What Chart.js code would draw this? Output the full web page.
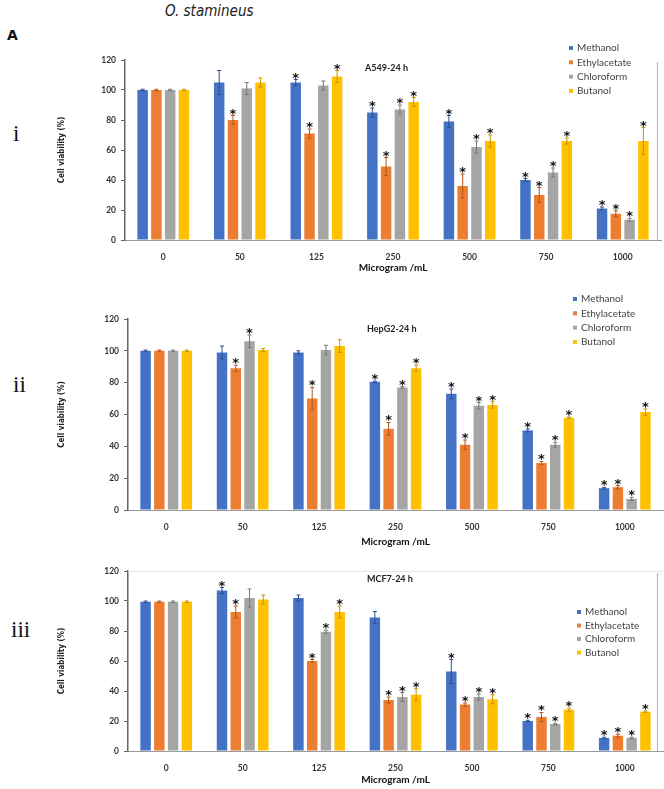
<!DOCTYPE html>
<html>
<head>
<meta charset="utf-8">
<script src="https://cdn.jsdelivr.net/npm/chart.js@4.4.1/dist/chart.umd.min.js"></script>
<style>
  body { margin: 0; background: #fff; width: 664px; height: 789px; position: relative; overflow: hidden; }
  canvas { position: absolute; left: 0; }
  .lbl { position: absolute; font-family: "Liberation Serif", serif; font-size: 23px; color: #111; }
  #species { position: absolute; left: 165px; top: 2px; font-family: "Liberation Sans Narrow", "DejaVu Sans Condensed", sans-serif; font-style: italic; font-size: 15px; color: #222; }
  #letterA { position: absolute; left: 7px; top: 27px; font-family: "DejaVu Sans", sans-serif; font-weight: bold; font-size: 14px; color: #111; }
</style>
</head>
<body>
<div id="species">O. stamineus</div>
<div id="letterA">A</div>
<div class="lbl" style="left:13px;top:121px">i</div>
<div class="lbl" style="left:13px;top:372px">ii</div>
<div class="lbl" style="left:11px;top:617px">iii</div>
<canvas id="chartA549" width="664" height="238" style="top:40px"></canvas>
<canvas id="chartHepG2" width="664" height="262" style="top:290px"></canvas>
<canvas id="chartMCF7" width="664" height="240" style="top:550px"></canvas>
<script>
// ---- данные ----
const doses = ['0', '50', '125', '250', '500', '750', '1000'];
const solvents = ['Methanol', 'Ethylacetate', 'Chloroform', 'Butanol'];
const solventColors = ['#4472C4', '#ED7D31', '#A5A5A5', '#FFC000'];
const errColors = ['#2c4f8f', '#b5561b', '#777777', '#c79500'];
const yTicks = [0, 20, 40, 60, 80, 100, 120];

// A549-24 h
const a549Methanol = [100, 105, 105, 85, 79, 40, 21];
const a549Ethyl    = [100, 80, 71, 49, 36, 30, 17.5];
const a549Chloro   = [100, 101, 103, 87, 62, 45, 13.5];
const a549Butanol  = [100, 105, 109, 92, 66, 66, 66];
const a549ErrMethanol = [0.5, 8, 2, 3, 4, 1, 1];
const a549ErrEthyl    = [0.5, 3, 3, 6, 8, 5, 2];
const a549ErrChloro   = [0.5, 4, 3, 3, 4, 3, 1];
const a549ErrButanol  = [0.5, 3, 4, 3, 4, 2, 9];
const a549StarMethanol = [0, 0, 1, 1, 1, 1, 1];
const a549StarEthyl    = [0, 1, 1, 1, 1, 1, 1];
const a549StarChloro   = [0, 0, 0, 1, 1, 1, 1];
const a549StarButanol  = [0, 0, 1, 1, 1, 1, 1];

// HepG2-24 h
const hepMethanol = [100, 99, 99, 80.5, 73, 50, 13.7];
const hepEthyl    = [100, 89, 70, 51, 41, 29.5, 14.3];
const hepChloro   = [100, 106, 100.5, 77, 65.5, 41, 7];
const hepButanol  = [100, 100.5, 103, 89, 66, 58, 61.5];
const hepErrMethanol = [0.5, 4, 1, 0.5, 3, 1, 0.5];
const hepErrEthyl    = [0.5, 2, 7, 4, 3, 1, 1];
const hepErrChloro   = [0.5, 4, 3, 0.5, 2, 1.5, 1];
const hepErrButanol  = [0.5, 1, 4, 2, 2, 0.5, 2];
const hepStarMethanol = [0, 0, 0, 1, 1, 1, 1];
const hepStarEthyl    = [0, 1, 1, 1, 1, 1, 1];
const hepStarChloro   = [0, 1, 0, 1, 1, 1, 1];
const hepStarButanol  = [0, 0, 0, 1, 1, 1, 1];

// MCF7-24 h
const mcfMethanol = [99.5, 107, 102, 89, 53, 20, 8.7];
const mcfEthyl    = [99.5, 92.7, 60, 34, 31, 22.7, 10.2];
const mcfChloro   = [99.5, 102, 79.5, 36, 36, 18, 8.7];
const mcfButanol  = [99.5, 101, 92.7, 37.5, 34.5, 27.6, 26.2];
const mcfErrMethanol = [0.5, 2, 2, 4, 8, 0.5, 0.5];
const mcfErrEthyl    = [0.5, 4, 1, 2, 1, 3, 1];
const mcfErrChloro   = [0.5, 6, 1, 3, 2, 0.5, 0.5];
const mcfErrButanol  = [0.5, 3, 4, 4, 3, 1, 0.5];
const mcfStarMethanol = [0, 1, 0, 0, 1, 1, 1];
const mcfStarEthyl    = [0, 1, 1, 1, 1, 1, 1];
const mcfStarChloro   = [0, 0, 1, 1, 1, 1, 1];
const mcfStarButanol  = [0, 0, 1, 1, 1, 1, 1];

const TICK_FONT = { family: 'Lato, "Open Sans", sans-serif', size: 8.5, weight: 'bold' };

// --- плагин: погрешности, звёздочки, заголовок, легенда, рамка ---
const extrasPlugin = {
  id: 'extras',
  afterDatasetsDraw(chart, args, opts) {
    const ctx = chart.ctx;
    const yScale = chart.scales.y;
    const area = chart.chartArea;
    ctx.save();

    if (opts.topLine) {
      ctx.strokeStyle = '#e6e6e6';
      ctx.lineWidth = 1;
      ctx.beginPath();
      ctx.moveTo(area.left, area.top + 0.5);
      ctx.lineTo(area.right, area.top + 0.5);
      ctx.stroke();
    }
    if (opts.rightLine) {
      ctx.strokeStyle = '#b8b8b8';
      ctx.lineWidth = 1.2;
      ctx.beginPath();
      ctx.moveTo(opts.rightLine + 0.5, area.top + 2);
      ctx.lineTo(opts.rightLine + 0.5, area.bottom);
      ctx.stroke();
    }

    chart.data.datasets.forEach((ds, i) => {
      const meta = chart.getDatasetMeta(i);
      meta.data.forEach((bar, j) => {
        const v = ds.data[j];
        const e = opts.errors[i][j];
        const yTop = yScale.getPixelForValue(v + e);
        const yBot = yScale.getPixelForValue(v - e);
        ctx.strokeStyle = errColors[i];
        ctx.lineWidth = 1;
        ctx.beginPath();
        ctx.moveTo(bar.x, yTop);
        ctx.lineTo(bar.x, yBot);
        ctx.moveTo(bar.x - 2, yTop);
        ctx.lineTo(bar.x + 2, yTop);
        ctx.moveTo(bar.x - 2, yBot);
        ctx.lineTo(bar.x + 2, yBot);
        ctx.stroke();
        if (opts.stars[i][j]) {
          ctx.fillStyle = '#111';
          ctx.font = 'bold 13px "DejaVu Sans", sans-serif';
          ctx.textAlign = 'center';
          ctx.textBaseline = 'alphabetic';
          ctx.fillText('*', bar.x, Math.min(yTop, bar.y) + 2);
        }
      });
    });

    // заголовок
    ctx.fillStyle = '#222';
    ctx.font = 'bold 9px Lato, "Open Sans", sans-serif';
    ctx.textAlign = 'left';
    ctx.textBaseline = 'middle';
    ctx.fillText(opts.title, opts.titleX, opts.titleY);

    // легенда
    ctx.font = '10px Lato, "Open Sans", sans-serif';
    solvents.forEach((name, i) => {
      const ly = opts.legendY + i * opts.legendStep;
      ctx.fillStyle = solventColors[i];
      ctx.fillRect(opts.legendX, ly - 2, 4, 4);
      ctx.fillStyle = '#444';
      ctx.fillText(name, opts.legendX + 8, ly);
    });
    ctx.restore();
  }
};

function buildChart(canvasId, series, errors, stars, cfg) {
  const datasets = series.map((values, i) => ({
    label: solvents[i],
    data: values,
    backgroundColor: solventColors[i],
    borderWidth: 0,
    categoryPercentage: 0.72,
    barPercentage: 0.76
  }));

  return new Chart(document.getElementById(canvasId), {
    type: 'bar',
    data: { labels: doses, datasets: datasets },
    plugins: [extrasPlugin],
    options: {
      responsive: false,
      animation: false,
      layout: { padding: { left: 57, right: cfg.padRight, top: cfg.padTop, bottom: 0 } },
      plugins: {
        legend: { display: false },
        tooltip: { enabled: false },
        extras: Object.assign({ errors: errors, stars: stars }, cfg.extras)
      },
      scales: {
        x: {
          grid: { display: false },
          border: { color: '#9a9a9a', width: 1 },
          ticks: { font: TICK_FONT, color: '#333', padding: 4 },
          title: {
            display: true,
            text: 'Microgram /mL',
            color: '#111',
            font: { family: 'Lato, "Open Sans", sans-serif', size: 10, weight: 'bold' },
            padding: { top: 0, bottom: 4 }
          },
          afterFit: s => { s.height = cfg.xHeight; }
        },
        y: {
          min: 0,
          max: 120,
          afterBuildTicks: s => { s.ticks = yTicks.map(v => ({ value: v })); },
          ticks: { font: TICK_FONT, color: '#333', padding: 5 },
          grid: { drawOnChartArea: false, drawTicks: true, tickLength: 4, color: '#666' },
          border: { color: '#666', width: 1.5 },
          title: {
            display: true,
            text: 'Cell viability (%)',
            color: '#222',
            font: { family: '"Liberation Sans Narrow", "DejaVu Sans Condensed", sans-serif', size: 8, weight: 'bold' },
            padding: { top: 0, bottom: 0 }
          },
          afterFit: s => { s.width = cfg.yWidth; }
        }
      }
    }
  });
}

buildChart('chartA549',
  [a549Methanol, a549Ethyl, a549Chloro, a549Butanol],
  [a549ErrMethanol, a549ErrEthyl, a549ErrChloro, a549ErrButanol],
  [a549StarMethanol, a549StarEthyl, a549StarChloro, a549StarButanol],
  { padTop: 20, padRight: 3, xHeight: 38, yWidth: 68,
    extras: { title: 'A549-24 h', titleX: 365, titleY: 28, legendX: 569, legendY: 8, legendStep: 14.3, rightLine: 657 } });

buildChart('chartHepG2',
  [hepMethanol, hepEthyl, hepChloro, hepButanol],
  [hepErrMethanol, hepErrEthyl, hepErrChloro, hepErrButanol],
  [hepStarMethanol, hepStarEthyl, hepStarChloro, hepStarButanol],
  { padTop: 29, padRight: 1, xHeight: 42, yWidth: 71,
    extras: { title: 'HepG2-24 h', titleX: 367, titleY: 39, legendX: 573, legendY: 9, legendStep: 14.3 } });

buildChart('chartMCF7',
  [mcfMethanol, mcfEthyl, mcfChloro, mcfButanol],
  [mcfErrMethanol, mcfErrEthyl, mcfErrChloro, mcfErrButanol],
  [mcfStarMethanol, mcfStarEthyl, mcfStarChloro, mcfStarButanol],
  { padTop: 21, padRight: 1, xHeight: 39, yWidth: 71,
    extras: { title: 'MCF7-24 h', titleX: 367, titleY: 29, legendX: 577, legendY: 62, legendStep: 13.5, rightLine: 657, topLine: true } });
</script>
</body>
</html>
